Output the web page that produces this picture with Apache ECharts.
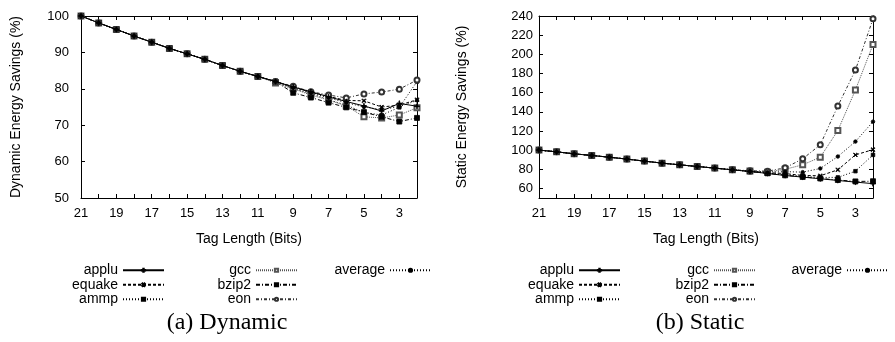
<!DOCTYPE html>
<html>
<head>
<meta charset="utf-8">
<script src="https://cdn.jsdelivr.net/npm/echarts@6/dist/echarts.min.js"></script>
<style>
  html, body { margin: 0; padding: 0; background: #fff; }
  #chart { width: 895px; height: 342px; }
</style>
</head>
<body>
<div id="chart"></div>
<script>
// tag length in bits, 21 down to 2
const tagLengths = [21, 20, 19, 18, 17, 16, 15, 14, 13, 12, 11, 10, 9, 8, 7, 6, 5, 4, 3, 2];
const benchmarks = ['applu', 'equake', 'ammp', 'gcc', 'bzip2', 'eon', 'average'];

// dynamic energy savings (%)
const dynApplu   = [100, 98.1, 96.3, 94.5, 92.8, 91.1, 89.6, 88.1, 86.4, 84.8, 83.4, 82.0, 80.5, 79.2, 77.8, 76.5, 75.3, 73.9, 76.0, 75.2];
const dynEquake  = [100, 98.1, 96.3, 94.5, 92.8, 91.1, 89.6, 88.1, 86.4, 84.8, 83.4, 82.0, 80.5, 79.0, 77.9, 76.8, 76.7, 75.0, 75.5, 77.0];
const dynAmmp    = [100, 98.1, 96.3, 94.5, 92.8, 91.1, 89.6, 88.1, 86.4, 84.8, 83.4, 82.0, 80.0, 78.7, 77.0, 75.5, 73.5, 72.8, 74.9, 82.0];
const dynGcc     = [100, 98.1, 96.3, 94.5, 92.8, 91.1, 89.6, 88.1, 86.4, 84.8, 83.4, 81.6, 80.0, 78.3, 76.9, 75.3, 72.3, 72.0, 72.8, 74.8];
const dynBzip2   = [100, 98.1, 96.3, 94.5, 92.8, 91.1, 89.6, 88.1, 86.4, 84.8, 83.4, 82.0, 78.9, 77.6, 76.2, 74.9, 73.6, 72.3, 71.0, 72.0];
const dynEon     = [100, 98.1, 96.3, 94.5, 92.8, 91.1, 89.6, 88.1, 86.4, 84.8, 83.4, 82.0, 80.7, 79.2, 78.3, 77.5, 78.6, 79.1, 79.9, 82.4];
const dynAverage = [100, 98.1, 96.3, 94.5, 92.8, 91.1, 89.6, 88.1, 86.4, 84.8, 83.4, 82.0, 80.3, 78.9, 77.5, 76.2, 75.0, 74.3, 75.1, 76.8];

// static energy savings (%)
const stApplu   = [100, 98.2, 96.1, 94.4, 92.6, 90.6, 88.5, 86.4, 84.6, 82.9, 81.2, 79.4, 77.7, 75.6, 73.5, 71.8, 70.1, 68.3, 66.6, 65.0];
const stEquake  = [100, 98.2, 96.1, 94.4, 92.6, 90.6, 88.5, 86.4, 84.6, 82.9, 81.2, 79.4, 77.7, 76.5, 75.5, 73.5, 73.2, 79.4, 95.0, 100.5];
const stAmmp    = [100, 98.2, 96.1, 94.4, 92.6, 90.6, 88.5, 86.4, 84.6, 82.9, 81.2, 79.4, 77.7, 76.0, 74.5, 72.5, 71.5, 71.5, 78.0, 95.0];
const stGcc     = [100, 98.2, 96.1, 94.4, 92.6, 90.6, 88.5, 86.4, 84.6, 82.9, 81.2, 79.4, 78.2, 77.0, 80.0, 84.6, 92.6, 120.4, 162.7, 210.2];
const stBzip2   = [100, 98.2, 96.1, 94.4, 92.6, 90.6, 88.5, 86.4, 84.6, 82.9, 81.2, 79.4, 77.7, 75.8, 73.7, 72.0, 70.4, 68.8, 67.3, 67.5];
const stEon     = [100, 98.2, 96.1, 94.4, 92.6, 90.6, 88.5, 86.4, 84.6, 82.9, 81.2, 79.4, 78.5, 78.0, 81.5, 90.9, 105.5, 146.0, 183.5, 237.0];
const stAverage = [100, 98.2, 96.1, 94.4, 92.6, 90.6, 88.5, 86.4, 84.6, 82.9, 81.2, 79.4, 78.0, 77.0, 77.5, 77.0, 80.8, 93.3, 108.9, 129.7];

const dynTicks = [50, 60, 70, 80, 90, 100];
const stTicks = [60, 80, 100, 120, 140, 160, 180, 200, 220, 240];

const dynamicSeries = [dynApplu, dynEquake, dynAmmp, dynGcc, dynBzip2, dynEon, dynAverage];
const staticSeries = [stApplu, stEquake, stAmmp, stGcc, stBzip2, stEon, stAverage];

const plusPath = 'path://M4.3,0h1.4v10h-1.4zM0,4.3h10v1.4h-10z';
const styles = {
  applu:   { symbol: plusPath, size: 5, rotate: 0, line: 'solid', color: '#000' },
  equake:  { symbol: plusPath, size: 5, rotate: 45, line: [3, 2], color: '#000' },
  ammp:    { symbol: 'rect', size: 3.5, rotate: 0, line: [1, 2], color: '#000' },
  gcc:     { symbol: 'emptyRect', size: 5, rotate: 0, line: [1, 1], color: '#555' },
  bzip2:   { symbol: 'rect', size: 5, rotate: 0, line: [4, 2, 1, 2], color: '#000' },
  eon:     { symbol: 'emptyCircle', size: 5, rotate: 0, line: [3, 2, 1, 2], color: '#333' },
  average: { symbol: 'circle', size: 3.5, rotate: 0, line: [1, 2], color: '#000' }
};

const font = 'Liberation Sans, Arial, sans-serif';
const tickStyle = { inside: true, length: 4, lineStyle: { color: '#000' } };
const lineAxis = { show: true, lineStyle: { color: '#000', width: 1 } };

const chart = echarts.init(document.getElementById('chart'));

function makeSeries(name, values, idx) {
  const s = styles[name];
  return {
    name: name,
    type: 'line',
    xAxisIndex: idx * 2,
    yAxisIndex: idx * 2,
    data: values.map((v, i) => [tagLengths[i], v]),
    symbol: s.symbol,
    symbolSize: s.size,
    symbolRotate: s.rotate,
    showAllSymbol: true,
    lineStyle: { color: s.color, width: 1, type: s.line },
    itemStyle: { color: s.color, borderColor: s.color, borderWidth: 0.8 },
    emphasis: { disabled: true },
    z: name === 'applu' ? 5 : 3
  };
}

function xAxes(grid) {
  return [
    {
      gridIndex: grid, type: 'value', min: 2, max: 21, interval: 1, inverse: true, position: 'bottom',
      name: 'Tag Length (Bits)', nameLocation: 'middle', nameGap: 34,
      nameTextStyle: { fontFamily: font, fontSize: 14, color: '#000' },
      axisLine: lineAxis, axisTick: tickStyle, splitLine: { show: false },
      axisLabel: { fontFamily: font, fontSize: 13, color: '#000', margin: 9,
        formatter: v => (v % 2 === 1 ? String(v) : '') }
    },
    {
      gridIndex: grid, type: 'value', min: 2, max: 21, interval: 1, inverse: true, position: 'top',
      axisLine: lineAxis, axisTick: tickStyle, splitLine: { show: false }, axisLabel: { show: false }
    }
  ];
}

function yAxes(grid, min, max, ticks, title, gap, margin) {
  return [
    {
      gridIndex: grid, type: 'value', min: min, max: max, position: 'left',
      name: title, nameLocation: 'middle', nameGap: gap, nameRotate: 90,
      nameTextStyle: { fontFamily: font, fontSize: 14, color: '#000' },
      axisLine: lineAxis, axisTick: Object.assign({ customValues: ticks }, tickStyle), splitLine: { show: false },
      axisLabel: { customValues: ticks, fontFamily: font, fontSize: 13, color: '#000', margin: margin }
    },
    {
      gridIndex: grid, type: 'value', min: min, max: max, position: 'right',
      axisLine: lineAxis, axisTick: Object.assign({ customValues: ticks }, tickStyle), splitLine: { show: false },
      axisLabel: { show: false }
    }
  ];
}

function legendColumn(names, right) {
  return {
    data: names, orient: 'vertical', align: 'right', right: right, top: 258,
    itemWidth: 41, itemHeight: 4, itemGap: 0, selectedMode: false,
    textStyle: { fontFamily: font, fontSize: 14, color: '#000', lineHeight: 14.5 }
  };
}

const option = {
  animation: false,
  backgroundColor: '#fff',
  grid: [
    { left: 81, top: 16, width: 336, height: 182 },
    { left: 539, top: 16, width: 334, height: 182 }
  ],
  xAxis: [...xAxes(0), ...xAxes(1)],
  yAxis: [
    ...yAxes(0, 50, 100, dynTicks, 'Dynamic Energy Savings (%)', 58, 12),
    ...yAxes(1, 50, 240, stTicks, 'Static Energy Savings (%)', 70, 6)
  ],
  legend: [
    legendColumn(['applu', 'equake', 'ammp'], 895 - 170),
    legendColumn(['gcc', 'bzip2', 'eon'], 895 - 303),
    legendColumn(['average'], 895 - 437),
    legendColumn(['applu', 'equake', 'ammp'], 895 - 626),
    legendColumn(['gcc', 'bzip2', 'eon'], 895 - 761),
    legendColumn(['average'], 1)
  ],
  title: [
    { text: '(a) Dynamic', left: 222, top: 306, textAlign: 'center',
      textStyle: { fontFamily: 'Liberation Serif, Times New Roman, serif', fontSize: 24, fontWeight: 'normal', color: '#000' } },
    { text: '(b) Static', left: 695, top: 306, textAlign: 'center',
      textStyle: { fontFamily: 'Liberation Serif, Times New Roman, serif', fontSize: 24, fontWeight: 'normal', color: '#000' } }
  ],
  series: [
    ...benchmarks.map((b, i) => makeSeries(b, dynamicSeries[i], 0)),
    ...benchmarks.map((b, i) => makeSeries(b, staticSeries[i], 1))
  ]
};

chart.setOption(option);
window.addEventListener('resize', () => chart.resize());
</script>
</body>
</html>
